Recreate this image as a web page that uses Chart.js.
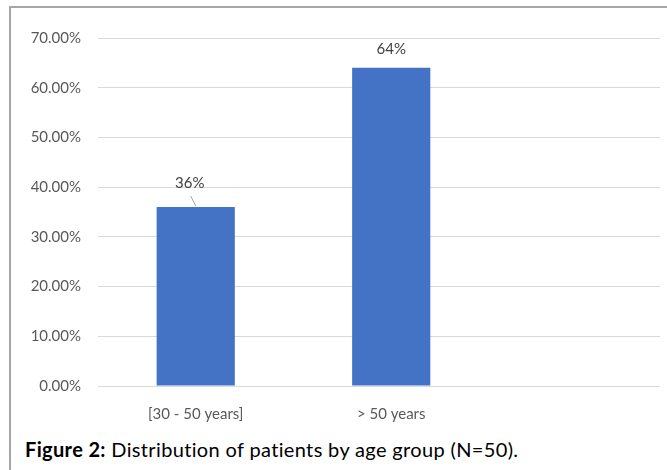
<!DOCTYPE html>
<html>
<head>
<meta charset="utf-8">
<script src="https://cdn.jsdelivr.net/npm/chart.js@4"></script>
<style>
  body { margin: 0; background: #fff; }
  #frame { position: absolute; left: 9px; top: 6px; width: 658px; height: 464px;
           border-left: 2px solid #a6a6a6; border-top: 2px solid #a6a6a6; }
  #box { position: absolute; left: 0; top: 0; width: 667px; height: 425px; }
  #caption { position: absolute; left: 25px; top: 437px; font-family: Lato, sans-serif;
             font-size: 20px; letter-spacing: 0.35px; color: #000; white-space: nowrap; }
</style>
</head>
<body>
<div id="frame"></div>
<div id="box"><canvas id="ageChart"></canvas></div>
<div id="caption"><b>Figure 2:</b> Distribution of patients by age group (N=50).</div>
<script>
    // Data
    var ageLabels = ['[30 - 50 years]', '> 50 years'];
    var agePercent = [36, 64];
    var pctLabels = ['36%', '64%'];
    var yTicks = [0, 10, 20, 30, 40, 50, 60, 70];

    // bars sit at the middle of each slot on a linear x axis
    var barPoints = agePercent.map(function (v, i) { return { x: i + 0.5, y: v }; });

    var barLabels = {
        id: 'barLabels',
        afterDatasetsDraw: function (chart, args, opts) {
            var ctx = chart.ctx;
            var meta = chart.getDatasetMeta(0);
            ctx.save();
            ctx.font = '15px Lato, sans-serif';
            ctx.fillStyle = '#404040';
            ctx.textAlign = 'center';
            ctx.textBaseline = 'middle';
            meta.data.forEach(function (bar, i) {
                var o = opts.offsets[i];
                var tx = bar.x + o.dx, ty = bar.y + o.dy;
                ctx.fillText(pctLabels[i], tx, ty);
                if (o.leader) {
                    ctx.strokeStyle = '#a6a6a6';
                    ctx.lineWidth = 1;
                    ctx.beginPath();
                    ctx.moveTo(tx + 1, ty + 13);
                    ctx.lineTo(bar.x, bar.y - 1);
                    ctx.stroke();
                }
            });
            ctx.restore();
        }
    };

    var ctxAge = document.getElementById('ageChart').getContext('2d');
    new Chart(ctxAge, {
        type: 'bar',
        data: {
            datasets: [{
                data: barPoints,
                backgroundColor: '#4472C4',
                barPercentage: 0.4,
                categoryPercentage: 1
            }]
        },
        plugins: [barLabels],
        options: {
            responsive: true,
            maintainAspectRatio: false,
            animation: false,
            layout: { padding: { top: 38, right: 7, left: 0, bottom: 0 } },
            plugins: {
                legend: { display: false },
                tooltip: { enabled: false },
                barLabels: { offsets: [ { dx: -6, dy: -24, leader: true }, { dx: 0, dy: -19 } ] }
            },
            scales: {
                x: {
                    type: 'linear',
                    offset: false,
                    min: 0,
                    max: 2.875,
                    grid: { display: false },
                    border: { display: false },
                    afterBuildTicks: function (s) {
                        s.ticks = ageLabels.map(function (l, i) { return { value: i + 0.5 }; });
                    },
                    afterFit: function (s) { s.height = 39; },
                    ticks: {
                        padding: 11,
                        color: '#595959',
                        font: { family: 'Lato', size: 15 },
                        callback: function (v) { return ageLabels[Math.round(v - 0.5)]; }
                    }
                },
                y: {
                    min: 0,
                    max: 70,
                    afterBuildTicks: function (s) {
                        s.ticks = yTicks.map(function (v) { return { value: v }; });
                    },
                    afterFit: function (s) { s.width = 98; },
                    border: { display: false },
                    grid: { color: '#d9d9d9', drawTicks: false },
                    ticks: {
                        padding: 17,
                        color: '#595959',
                        font: { family: 'Lato', size: 15 },
                        callback: function (v) { return v.toFixed(2) + '%'; }
                    }
                }
            }
        }
    });
</script>
</body>
</html>
